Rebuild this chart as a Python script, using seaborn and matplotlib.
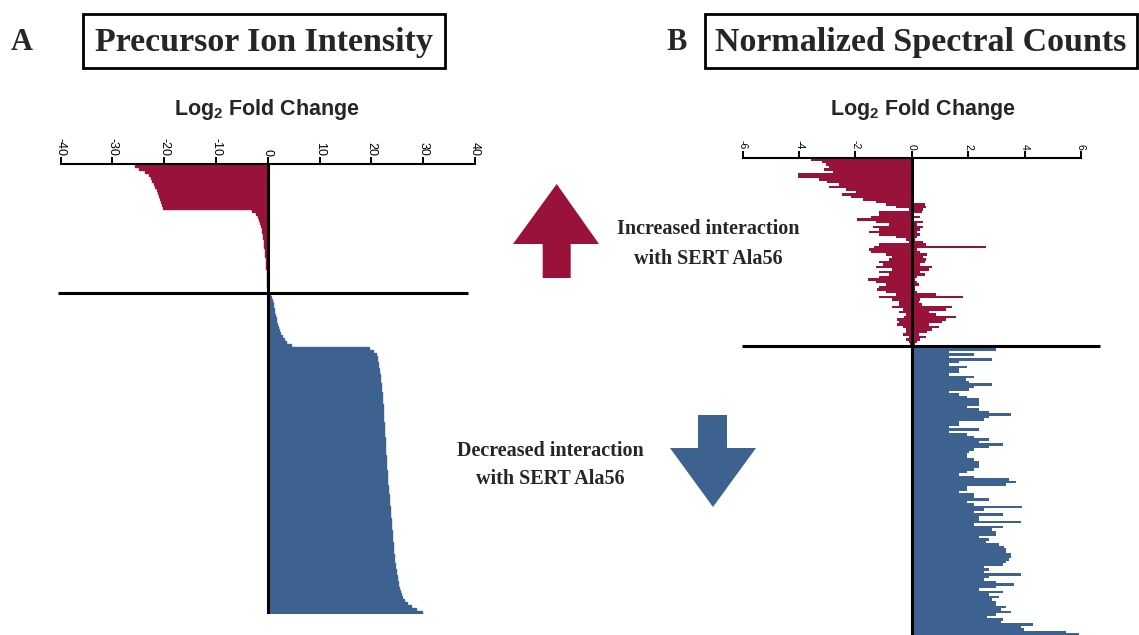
import numpy as np
import matplotlib
matplotlib.use("Agg")
import matplotlib.pyplot as plt
import matplotlib.patches as mpatches
import seaborn as sns

# ---------------- data ----------------
# Panel A: precursor ion intensity, log2 fold change per protein (sorted)
a_red = [-25.6, -24.8, -23.8, -23.0, -22.6, -22.3, -22.0, -21.8, -21.5, -21.2,
         -21.0, -20.8, -20.6, -20.4, -20.2,
         -3.0, -2.2, -1.9, -1.7, -1.5, -1.35, -1.2, -1.1, -1.0, -0.9, -0.8,
         -0.72, -0.65, -0.58, -0.52, -0.46, -0.41, -0.36, -0.31, -0.27, -0.23,
         -0.19, -0.16, -0.13, -0.10, -0.07, -0.05, -0.03]
a_blue = [0.4, 0.6, 0.8, 0.9, 1.0, 1.1, 1.25, 1.4, 1.5, 1.65, 1.8, 2.0, 2.2, 2.4,
          2.7, 3.1, 3.6, 4.5,
          19.5, 20.4, 20.8, 21.0, 21.1, 21.2, 21.3, 21.4, 21.5, 21.6, 21.7, 21.75,
          21.8, 21.85, 21.9, 21.95, 22.0, 22.05, 22.1, 22.15, 22.2, 22.2, 22.25,
          22.3, 22.3, 22.35, 22.4, 22.4, 22.45, 22.5, 22.55, 22.6, 22.6, 22.65,
          22.7, 22.7, 22.75, 22.8, 22.85, 22.9, 22.9, 22.95, 23.0, 23.0, 23.05,
          23.1, 23.15, 23.2, 23.25, 23.3, 23.35, 23.4, 23.45, 23.5, 23.55, 23.6,
          23.65, 23.7, 23.75, 23.8, 23.85, 23.9, 23.95, 24.0, 24.05, 24.1, 24.15,
          24.2, 24.25, 24.3, 24.35, 24.4, 24.5, 24.6, 24.7, 24.8, 24.9, 25.0,
          25.1, 25.2, 25.3, 25.5, 25.7, 26.0, 26.3, 26.8, 27.6, 28.7, 29.8]

# Panel B: normalized spectral counts, log2 fold change
b_red_neg = [-3.58, -3.17, -3.05, -2.93, -3.10, -2.80, -4.05, -4.05, -3.30, -3.00,
             -2.58, -2.93, -2.34, -1.99, -2.46, -2.16, -1.75, -1.28, -0.92, -0.57,
             -0.10, -1.16, -1.16, -1.45, -1.93, -1.28, -0.80, -1.39, -1.16, -1.51,
             -1.16, -0.57, -0.21, -0.10, -1.16, -1.35, -1.51, -1.45, -0.92, -0.69,
             -0.80, -1.16, -1.04, -1.28, -0.69, -1.16, -0.80, -1.16, -1.57, -1.28,
             -0.92, -1.16, -1.22, -0.92, -0.57, -1.16, -0.69, -0.45, -0.45, -0.69,
             -0.33, -0.45, -0.21, -0.27, -0.51, -0.45, -0.51, -0.33, -0.21, -0.21,
             -0.33, -0.10, -0.21, -0.10, -0.05]
b_red_pos = [0, 0, 0, 0, 0, 0, 0, 0, 0, 0,
             0, 0, 0, 0, 0, 0, 0, 0, 0.45, 0.50,
             0.38, 0.35, 0, 0.30, 0, 0.40, 0.20, 0.40, 0.30, 0.20,
             0.30, 0.20, 0.10, 0.40, 0.50, 2.62, 0.20, 0.30, 0.55, 0.40,
             0.50, 0.45, 0.30, 0.73, 0.60, 0.30, 0.45, 0.20, 0.10, 0.20,
             0.25, 0.10, 0.10, 0.20, 0.85, 1.80, 0.30, 0.25, 0.35, 1.44,
             1.20, 0.60, 0.85, 1.56, 1.20, 1.08, 0.60, 0.97, 0.73, 0.55,
             0.25, 0.50, 0.30, 0.20, 0.10]
b_blue = [0.50, 2.98, 1.32, 2.21, 1.32, 2.86, 1.68, 1.32, 1.97, 1.68, 1.68, 1.32,
          2.21, 1.91, 2.03, 2.86, 2.21, 2.03, 1.32, 1.68, 1.97, 2.39, 2.39, 2.39,
          1.97, 2.39, 2.74, 3.51, 2.74, 2.56, 1.68, 1.68, 1.32, 2.39, 1.32, 1.97,
          2.21, 2.74, 2.39, 3.22, 2.74, 2.21, 2.03, 1.97, 1.97, 2.21, 2.39, 2.39,
          2.39, 2.21, 1.97, 1.68, 2.21, 3.45, 3.69, 3.33, 1.97, 1.97, 1.68, 2.21,
          2.21, 2.74, 1.97, 2.21, 3.92, 2.56, 2.21, 3.22, 2.39, 2.39, 3.87, 2.21,
          3.22, 2.86, 2.98, 2.98, 2.39, 2.74, 2.62, 3.10, 3.27, 3.33, 3.33, 3.51,
          3.51, 3.45, 3.33, 3.22, 2.56, 2.74, 2.56, 3.87, 2.74, 2.56, 2.98, 3.63,
          2.98, 2.39, 3.22, 2.74, 3.10, 2.86, 2.98, 2.98, 3.33, 3.16, 3.51, 2.98,
          2.68, 3.22, 3.16, 4.28, 3.87, 3.98, 5.46, 5.93, 5.93]

ticks_a = [-40, -30, -20, -10, 0, 10, 20, 30, 40]
ticks_b = [-6, -4, -2, 0, 2, 4, 6]
titles = ["Precursor Ion Intensity", "Normalized Spectral Counts"]
panel_letters = ["A", "B"]
axis_label = r"Log$_\mathbf{2}$ Fold Change"
up_text = "Increased interaction\nwith SERT Ala56"
down_text = "Decreased interaction\nwith SERT Ala56"

RED = "#98123A"
BLUE = "#3E6290"

# ---------------- style ----------------
sns.set_style("white")
plt.rcParams["font.family"] = ["Liberation Sans", "DejaVu Sans"]
plt.rcParams["axes.unicode_minus"] = False
plt.rcParams["mathtext.fontset"] = "custom"
plt.rcParams["mathtext.rm"] = "Liberation Sans:bold"
plt.rcParams["mathtext.bf"] = "Liberation Sans:bold"

W, H = 1139, 635
fig = plt.figure(figsize=(W / 100, H / 100), dpi=100)


def rect(l, t, r, b):
    return [l / W, 1 - b / H, (r - l) / W, (b - t) / H]


def style_axis(ax, ticks, lsize):
    for s in ["left", "right", "bottom"]:
        ax.spines[s].set_visible(False)
    ax.spines["top"].set_visible(True)
    ax.spines["top"].set_linewidth(1.5)
    ax.spines["top"].set_color("black")
    ax.xaxis.tick_top()
    ax.set_xticks(ticks)
    ax.set_xticklabels([str(t) for t in ticks])
    ax.tick_params(axis="x", top=True, bottom=False, direction="out",
                   length=5, width=1.4, pad=1, labelsize=lsize,
                   labelrotation=-90, colors="black")
    ax.set_yticks([])
    ax.set_xlabel("")
    ax.set_ylabel("")
    ax.set_facecolor("none")
    ax.grid(False)


# ---------------- panel A ----------------
nA_red = len(a_red)
nA = nA_red + len(a_blue)
axA = fig.add_axes(rect(60.7, 164, 475, 164 + 3 * nA))
sns.barplot(x=a_red, y=np.arange(nA_red), orient="y", native_scale=True,
            color=RED, saturation=1, width=1, errorbar=None,
            edgecolor=RED, linewidth=1.0, ax=axA)
sns.barplot(x=a_blue, y=np.arange(nA_red, nA), orient="y", native_scale=True,
            color=BLUE, saturation=1, width=1, errorbar=None,
            edgecolor=BLUE, linewidth=1.0, ax=axA)
axA.set_xlim(-40, 40)
axA.set_ylim(nA - 0.5, -0.5)
style_axis(axA, ticks_a, 9)
axA.axvline(0, color="black", lw=2.2, zorder=5)
axA.plot([-40.5, 38.6], [nA_red - 0.5, nA_red - 0.5], color="black", lw=2.2,
         clip_on=False, zorder=5, solid_capstyle="butt")

# ---------------- panel B ----------------
nB_red = len(b_red_neg)
nB = nB_red + len(b_blue)
axB = fig.add_axes(rect(742.7, 158, 1081, 158 + 2.5 * nB))
sns.barplot(x=b_red_neg, y=np.arange(nB_red), orient="y", native_scale=True,
            color=RED, saturation=1, width=1, errorbar=None, linewidth=0, ax=axB)
sns.barplot(x=b_red_pos, y=np.arange(nB_red), orient="y", native_scale=True,
            color=RED, saturation=1, width=1, errorbar=None, linewidth=0, ax=axB)
sns.barplot(x=b_blue, y=np.arange(nB_red, nB), orient="y", native_scale=True,
            color=BLUE, saturation=1, width=1, errorbar=None, linewidth=0, ax=axB)
axB.set_xlim(-6, 6)
axB.set_ylim(nB - 0.5, -0.5)
style_axis(axB, ticks_b, 7.5)
axB.axvline(0, color="black", lw=2.2, zorder=5)
axB.plot([-6.02, 6.68], [nB_red - 0.5, nB_red - 0.5], color="black", lw=2.2,
         clip_on=False, zorder=5, solid_capstyle="butt")

# ---------------- overlay (titles, arrows, annotations) ----------------
ov = fig.add_axes([0, 0, 1, 1])
ov.set_xlim(0, W)
ov.set_ylim(H, 0)
ov.set_axis_off()

serif = ["Liberation Serif", "DejaVu Serif"]
for letter, x in zip(panel_letters, [22, 677]):
    ov.text(x, 43, letter, fontsize=22, fontweight="bold", family=serif,
            ha="center", va="center")
for title, (l, r) in zip(titles, [(83, 445), (705, 1137)]):
    ov.add_patch(mpatches.Rectangle((l, 14), r - l, 54, fill=False,
                                    ec="black", lw=2))
    ov.text((l + r) / 2, 42, title, fontsize=24.5, fontweight="bold",
            family=serif, ha="center", va="center")

for x in [267, 923]:
    ov.text(x, 115, axis_label, fontsize=15.5, fontweight="bold",
            ha="center", va="baseline")

up = [(556.7, 184), (599, 244), (570.7, 244), (570.7, 278), (542.7, 278),
      (542.7, 244), (513, 244)]
down = [(698, 415), (727, 415), (727, 448), (756, 448), (713, 507),
        (670, 448), (698, 448)]
ov.add_patch(mpatches.Polygon(up, closed=True, fc=RED, ec="none"))
ov.add_patch(mpatches.Polygon(down, closed=True, fc=BLUE, ec="none"))

ov.text(708, 244, up_text, fontsize=14.5, fontweight="bold", family=serif,
        ha="center", va="center", linespacing=1.6)
ov.text(550, 465, down_text, fontsize=14.5, fontweight="bold", family=serif,
        ha="center", va="center", linespacing=1.6)

fig.savefig("out.png", dpi=100, facecolor="white")
